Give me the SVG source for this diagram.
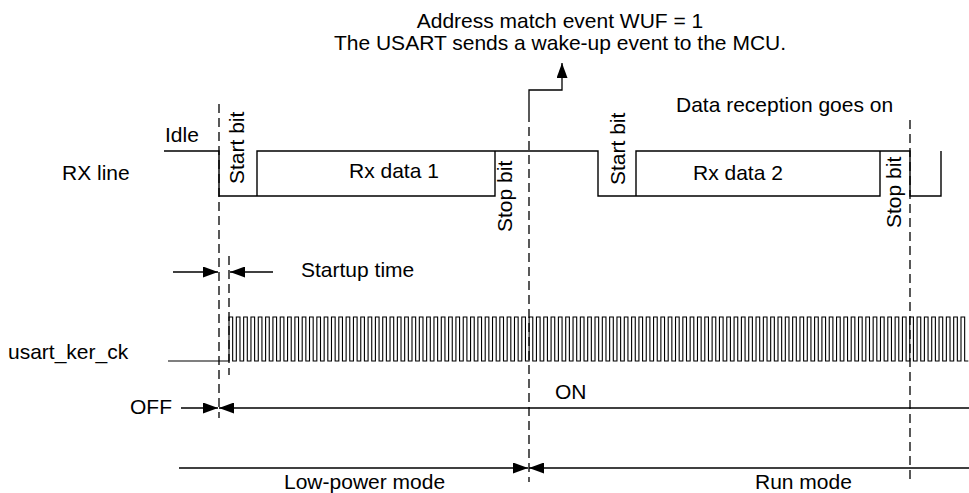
<svg xmlns="http://www.w3.org/2000/svg" width="969" height="493" viewBox="0 0 969 493">
<style>
text{font-family:"Liberation Sans",Arial,Helvetica,sans-serif;font-size:21px;fill:#000}
.w{fill:none;stroke:#000;stroke-width:1.4}
.c{fill:none;stroke:#000;stroke-width:1.1}
.d{fill:none;stroke:#000;stroke-width:1.3;stroke-dasharray:9 5}
.a{fill:none;stroke:#000;stroke-width:1.3;marker-end:url(#ah)}
</style>
<defs>
<marker id="ah" markerUnits="userSpaceOnUse" markerWidth="15" markerHeight="11" refX="15" refY="5.5" orient="auto"><path d="M0,0L15,5.5L0,11z" fill="#000"/></marker>
</defs>
<rect width="969" height="493" fill="#fff"/>
<g id="rx-line">
<path class="w" d="M164,151H219V196H495V151M257,196V151H598V196H880V151M636,196V151H910V196H941V151"/>
<text x="165" y="142">Idle</text>
<text x="62" y="180">RX line</text>
<text transform="translate(244,184) rotate(-90)">Start bit</text>
<text x="349" y="178">Rx data 1</text>
<text transform="translate(512,232) rotate(-90)">Stop bit</text>
<text transform="translate(625,185) rotate(-90)">Start bit</text>
<text x="693" y="180">Rx data 2</text>
<text transform="translate(901,228) rotate(-90)">Stop bit</text>
<text x="676" y="112">Data reception goes on</text>
</g>
<g id="clock">
<path class="c" d="M168,361H229v-44h3.66v44h3.66v-44h3.66v44h3.66v-44h3.66v44h3.66v-44h3.66v44h3.66v-44h3.66v44h3.66v-44h3.66v44h3.66v-44h3.66v44h3.66v-44h3.66v44h3.66v-44h3.66v44h3.66v-44h3.66v44h3.66
v-44h3.66v44h3.66v-44h3.66v44h3.66v-44h3.66v44h3.66v-44h3.66v44h3.66v-44h3.66v44h3.66v-44h3.66v44h3.66v-44h3.66v44h3.66v-44h3.66v44h3.66v-44h3.66v44h3.66v-44h3.66v44h3.66
v-44h3.66v44h3.66v-44h3.66v44h3.66v-44h3.66v44h3.66v-44h3.66v44h3.66v-44h3.66v44h3.66v-44h3.66v44h3.66v-44h3.66v44h3.66v-44h3.66v44h3.66v-44h3.66v44h3.66v-44h3.66v44h3.66
v-44h3.66v44h3.66v-44h3.66v44h3.66v-44h3.66v44h3.66v-44h3.66v44h3.66v-44h3.66v44h3.66v-44h3.66v44h3.66v-44h3.66v44h3.66v-44h3.66v44h3.66v-44h3.66v44h3.66v-44h3.66v44h3.66
v-44h3.66v44h3.66v-44h3.66v44h3.66v-44h3.66v44h3.66v-44h3.66v44h3.66v-44h3.66v44h3.66v-44h3.66v44h3.66v-44h3.66v44h3.66v-44h3.66v44h3.66v-44h3.66v44h3.66v-44h3.66v44h3.66
v-44h3.66v44h3.66v-44h3.66v44h3.66v-44h3.66v44h3.66v-44h3.66v44h3.66v-44h3.66v44h3.66v-44h3.66v44h3.66v-44h3.66v44h3.66v-44h3.66v44h3.66v-44h3.66v44h3.66v-44h3.66v44h3.66
v-44h3.66v44h3.66v-44h3.66v44h3.66v-44h3.66v44h3.66v-44h3.66v44h3.66v-44h3.66v44h3.66v-44h3.66v44h3.66v-44h3.66v44h3.66v-44h3.66v44h3.66v-44h3.66v44h3.66v-44h3.66v44h3.66
v-44h3.66v44h3.66v-44h3.66v44h3.66v-44h3.66v44h3.66v-44h3.66v44h3.66v-44h3.66v44h3.66v-44h3.66v44h3.66v-44h3.66v44h3.66v-44h3.66v44h3.66v-44h3.66v44h3.66v-44h3.66v44h3.66
v-44h3.66v44h3.66v-44h3.66v44h3.66v-44h3.66v44h3.66v-44h3.66v44h3.66v-44h3.66v44h3.66v-44h3.66v44h3.66v-44h3.66v44h3.66v-44h3.66v44h3.66v-44h3.66v44h3.66v-44h3.66v44h3.66
v-44h3.66v44h3.66v-44h3.66v44h3.66v-44h3.66v44h3.66v-44h3.66v44h3.66v-44h3.66v44h3.66v-44h3.66v44h3.66v-44h3.66v44h3.66v-44h3.66v44h3.66v-44h3.66v44h3.66v-44h3.66v44h3.66
v-44h3.66v44h3.66"/>
<text x="8" y="359">usart_ker_ck</text>
<text x="301" y="277">Startup time</text>
</g>
<g id="power">
<text x="130" y="414">OFF</text>
<text x="555" y="399">ON</text>
<text x="284" y="489">Low-power mode</text>
<text x="755" y="489">Run mode</text>
</g>
<g id="event">
<text x="560" y="28" text-anchor="middle">Address match event WUF = 1</text>
<text x="560" y="50" text-anchor="middle">The USART sends a wake-up event to the MCU.</text>
</g>
<g id="connectors">
<path class="d" d="M219,104V418M229,256V375M529,113V482M910,120V482"/>
<path class="a" d="M173,272H218"/>
<path class="a" d="M273,272H230"/>
<path class="a" d="M181,408H218"/>
<path class="a" d="M969,408H219"/>
<path class="a" d="M179,468H528"/>
<path class="a" d="M969,468H529"/>
<path class="a" d="M529,113V90H562V63"/>
</g>
</svg>
